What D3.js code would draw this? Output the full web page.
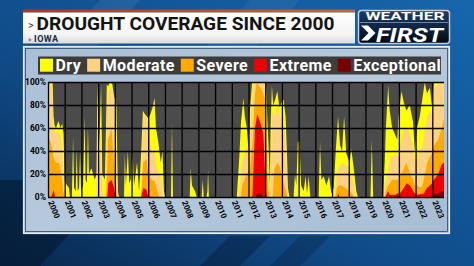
<!DOCTYPE html>
<html>
<head>
<meta charset="utf-8">
<script src="https://cdn.jsdelivr.net/npm/d3@7/dist/d3.min.js"></script>
<style>
  body { margin: 0; background: #0e4a86; overflow: hidden; }
  svg { display: block; }
  text { font-family: Roboto, 'Open Sans', sans-serif; }
</style>
</head>
<body>
<div id="chart"></div>
<script>
/* global d3 */

var categories = ['Dry', 'Moderate', 'Severe', 'Extreme', 'Exceptional']
var years = d3.range(2000, 2024)
var yTicks = [0, 20, 40, 60, 80, 100]

// Percent of Iowa in each category or worse, as [decimal year, percent].
var dry = [
  [2000.00, 100], [2000.28, 100], [2000.33, 70], [2000.40, 62], [2000.48, 60], [2000.62, 66],
  [2000.75, 60], [2000.85, 64], [2000.93, 55], [2001.00, 14], [2001.15, 10], [2001.25, 8],
  [2001.32, 0], [2001.43, 0], [2001.50, 52], [2001.56, 8], [2001.66, 5], [2001.72, 42],
  [2001.78, 5], [2001.86, 8], [2001.92, 40], [2001.98, 5], [2002.10, 10], [2002.19, 70],
  [2002.25, 15], [2002.33, 12], [2002.39, 62], [2002.45, 20], [2002.60, 25], [2002.80, 15],
  [2002.90, 20], [2002.96, 100], [2003.03, 40], [2003.10, 60], [2003.18, 98], [2003.25, 20],
  [2003.40, 15], [2003.47, 60], [2003.52, 98], [2003.60, 96], [2003.70, 100], [2003.85, 98],
  [2003.95, 88], [2004.10, 80], [2004.18, 5], [2004.25, 0], [2004.55, 0], [2004.60, 38],
  [2004.66, 10], [2004.78, 40], [2004.86, 12], [2004.95, 15], [2005.06, 38], [2005.15, 10],
  [2005.33, 30], [2005.45, 5], [2005.58, 40], [2005.68, 75], [2005.80, 72], [2005.92, 70],
  [2006.02, 68], [2006.15, 73], [2006.26, 78], [2006.38, 86], [2006.46, 60], [2006.60, 48],
  [2006.75, 30], [2006.85, 40], [2006.94, 5], [2007.02, 0], [2007.36, 0], [2007.42, 65],
  [2007.48, 0], [2008.48, 0], [2008.54, 25], [2008.62, 10], [2008.80, 5], [2008.90, 0],
  [2009.20, 0], [2009.26, 15], [2009.32, 0], [2009.48, 0], [2009.54, 5], [2009.58, 24],
  [2009.63, 0], [2011.30, 0], [2011.45, 35], [2011.55, 65], [2011.62, 75], [2011.69, 86],
  [2011.78, 70], [2011.90, 60], [2012.00, 40], [2012.08, 75], [2012.22, 100], [2012.95, 100],
  [2013.05, 98], [2013.12, 70], [2013.20, 45], [2013.28, 10], [2013.32, 60], [2013.40, 97],
  [2013.48, 80], [2013.60, 85], [2013.72, 92], [2013.85, 78], [2013.98, 82], [2014.10, 85],
  [2014.22, 70], [2014.30, 40], [2014.36, 8], [2014.45, 0], [2014.70, 0], [2014.78, 20],
  [2014.86, 10], [2014.95, 48], [2015.05, 48], [2015.15, 10], [2015.30, 5], [2015.42, 18],
  [2015.50, 3], [2015.60, 18], [2015.70, 0], [2016.20, 0], [2016.28, 48], [2016.36, 15],
  [2016.50, 18], [2016.66, 10], [2016.82, 18], [2016.96, 3], [2017.10, 8], [2017.22, 40],
  [2017.36, 70], [2017.48, 45], [2017.60, 40], [2017.72, 70], [2017.85, 38], [2018.05, 30],
  [2018.15, 42], [2018.30, 25], [2018.45, 5], [2018.55, 0], [2019.30, 0], [2019.38, 50],
  [2019.46, 0], [2020.05, 0], [2020.15, 30], [2020.22, 60], [2020.36, 97], [2020.45, 75],
  [2020.60, 60], [2020.75, 55], [2020.90, 50], [2020.98, 70], [2021.15, 92], [2021.30, 82],
  [2021.45, 75], [2021.65, 80], [2021.85, 65], [2021.95, 40], [2022.08, 60], [2022.25, 70],
  [2022.40, 85], [2022.55, 100], [2022.68, 90], [2022.85, 95], [2022.97, 80], [2023.08, 100],
  [2023.70, 100]
]

var moderate = [
  [2000.00, 100], [2000.25, 97], [2000.33, 60], [2000.45, 55], [2000.62, 58], [2000.80, 50],
  [2000.90, 30], [2001.00, 5], [2001.10, 0], [2002.92, 0], [2002.96, 90], [2003.03, 20],
  [2003.10, 30], [2003.18, 60], [2003.25, 5], [2003.30, 0], [2003.45, 0], [2003.52, 70],
  [2003.60, 92], [2003.80, 95], [2003.95, 85], [2004.10, 40], [2004.18, 0], [2005.55, 0],
  [2005.62, 20], [2005.70, 72], [2005.90, 70], [2006.00, 62], [2006.20, 40], [2006.40, 40],
  [2006.50, 25], [2006.70, 18], [2006.80, 15], [2006.92, 0], [2007.38, 0], [2007.42, 5],
  [2007.46, 0], [2011.40, 0], [2011.48, 10], [2011.60, 30], [2011.72, 35], [2011.90, 45],
  [2012.00, 40], [2012.08, 50], [2012.25, 95], [2012.35, 100], [2012.95, 100], [2013.05, 85],
  [2013.15, 40], [2013.25, 5], [2013.32, 20], [2013.42, 75], [2013.55, 70], [2013.75, 80],
  [2013.90, 70], [2014.05, 65], [2014.20, 55], [2014.30, 15], [2014.36, 0], [2017.15, 0],
  [2017.22, 15], [2017.36, 25], [2017.50, 28], [2017.75, 30], [2017.90, 25], [2018.05, 20],
  [2018.15, 18], [2018.30, 10], [2018.42, 0], [2020.10, 0], [2020.17, 10], [2020.36, 25],
  [2020.48, 35], [2020.62, 35], [2020.78, 38], [2020.92, 35], [2021.15, 50], [2021.30, 60],
  [2021.45, 60], [2021.65, 55], [2021.85, 45], [2021.95, 30], [2022.10, 35], [2022.25, 40],
  [2022.42, 45], [2022.56, 60], [2022.70, 70], [2022.86, 75], [2022.98, 70], [2023.10, 95],
  [2023.35, 98], [2023.50, 100], [2023.70, 100]
]

var severe = [
  [2000.00, 55], [2000.20, 45], [2000.33, 35], [2000.48, 30], [2000.65, 30], [2000.80, 20],
  [2000.92, 5], [2001.00, 0], [2003.48, 0], [2003.53, 20], [2003.60, 50], [2003.80, 60],
  [2003.95, 30], [2004.10, 5], [2004.15, 0], [2005.56, 0], [2005.62, 10], [2005.70, 30],
  [2005.90, 33], [2006.00, 20], [2006.20, 15], [2006.38, 14], [2006.50, 8], [2006.65, 0],
  [2011.55, 0], [2011.62, 10], [2011.90, 20], [2012.08, 25], [2012.25, 50], [2012.39, 90],
  [2012.50, 100], [2012.70, 95], [2012.90, 90], [2013.00, 85], [2013.06, 50], [2013.15, 15],
  [2013.25, 0], [2013.45, 0], [2013.55, 25], [2013.75, 30], [2013.90, 25], [2014.05, 15],
  [2014.25, 5], [2014.32, 0], [2017.20, 0], [2017.30, 8], [2017.40, 10], [2017.60, 10],
  [2017.80, 8], [2018.05, 5], [2018.20, 3], [2018.30, 0], [2020.15, 0], [2020.22, 5],
  [2020.36, 10], [2020.60, 15], [2020.90, 15], [2021.15, 20], [2021.30, 25], [2021.46, 30],
  [2021.66, 20], [2021.86, 15], [2021.96, 10], [2022.10, 10], [2022.30, 8], [2022.42, 10],
  [2022.56, 20], [2022.70, 30], [2022.86, 35], [2023.00, 38], [2023.10, 45], [2023.36, 50],
  [2023.56, 60], [2023.70, 68]
]

var extreme = [
  [2000.20, 0], [2000.28, 3], [2000.35, 6], [2000.42, 0], [2003.55, 0], [2003.60, 12],
  [2003.80, 15], [2003.95, 8], [2004.05, 0], [2005.58, 0], [2005.65, 5], [2005.72, 8],
  [2005.90, 6], [2006.00, 0], [2012.22, 0], [2012.25, 5], [2012.39, 60], [2012.53, 72],
  [2012.69, 65], [2012.89, 55], [2012.99, 20], [2013.05, 5], [2013.10, 0], [2017.32, 0],
  [2017.37, 3], [2017.45, 0], [2020.20, 0], [2020.25, 2], [2020.37, 5], [2020.45, 2],
  [2020.80, 2], [2020.92, 3], [2021.05, 3], [2021.16, 5], [2021.30, 8], [2021.46, 12],
  [2021.66, 10], [2021.86, 5], [2021.96, 3], [2022.10, 2], [2022.50, 3], [2022.56, 5],
  [2022.70, 8], [2022.86, 10], [2023.00, 12], [2023.10, 15], [2023.36, 20], [2023.56, 28],
  [2023.70, 30]
]

var exceptional = [
  [2012.45, 0], [2012.50, 3], [2012.80, 3], [2012.85, 0], [2023.00, 0], [2023.10, 2],
  [2023.36, 3], [2023.56, 5], [2023.70, 5]
]

var series = [dry, moderate, severe, extreme, exceptional]
var COLORS = ['#ffff00', '#fdd382', '#ffaa00', '#f00000', '#780000']

var W = 474
var H = 266
var PLOT = { left: 48, right: 444, top: 82, bottom: 197 }

var svg = d3.select('#chart').append('svg')
  .attr('width', W)
  .attr('height', H)
var defs = svg.append('defs')

function gradient (id, x1, y1, x2, y2, stops) {
  var g = defs.append('linearGradient').attr('id', id)
    .attr('x1', x1).attr('y1', y1).attr('x2', x2).attr('y2', y2)
  stops.forEach(function (s) {
    g.append('stop').attr('offset', s[0]).attr('stop-color', s[1])
  })
}

gradient('bg', 0, 1, 1, 0, [[0, '#08274c'], [0.4, '#104b88'], [1, '#1766ad']])
gradient('redline', 0, 0, 1, 0, [[0, '#c42c1c'], [1, '#d4602e']])
gradient('whitebar', 0, 0, 0, 1, [[0, '#ffffff'], [0.7, '#f4f4f4'], [1, '#dcdcdc']])
gradient('logo', 0, 0, 0, 1, [[0, '#1d3c68'], [0.5, '#0f2544'], [1, '#03070e']])
gradient('panel', 0, 0, 1, 1, [[0, '#a9bfd6'], [0.5, '#b6c9dc'], [1, '#a7bdd4']])

//
// Background with diagonal stripes
//
svg.append('rect').attr('width', W).attr('height', H).attr('fill', 'url(#bg)')

var stripes = [
  { pts: [[100, 0], [140, 0], [95, 48], [55, 48]], fill: '#ffffff', op: 0.07 },
  { pts: [[250, 0], [300, 0], [255, 48], [205, 48]], fill: '#ffffff', op: 0.05 },
  { pts: [[0, 180], [0, 266], [40, 266], [120, 180]], fill: '#04152b', op: 0.55 },
  { pts: [[230, 236], [270, 236], [240, 266], [200, 266]], fill: '#04152b', op: 0.35 },
  { pts: [[300, 236], [330, 236], [300, 266], [270, 266]], fill: '#04152b', op: 0.25 }
]
svg.selectAll('polygon.stripe').data(stripes).join('polygon')
  .attr('class', 'stripe')
  .attr('points', function (d) { return d.pts.join(' ') })
  .attr('fill', function (d) { return d.fill })
  .attr('opacity', function (d) { return d.op })

//
// Header: title bar and logo
//
svg.append('rect').attr('x', 23).attr('y', 9.5).attr('width', 332).attr('height', 3)
  .attr('fill', 'url(#redline)')
svg.append('rect').attr('x', 23).attr('y', 12.5).attr('width', 332).attr('height', 31)
  .attr('fill', 'url(#whitebar)')
svg.append('text').attr('x', 28).attr('y', 28.5)
  .attr('font-size', 11).attr('fill', '#333').text('>')
svg.append('text').attr('x', 36.5).attr('y', 30.2)
  .attr('font-size', 17.8).attr('font-weight', 'bold').attr('fill', '#141414')
  .attr('textLength', 298).attr('lengthAdjust', 'spacingAndGlyphs')
  .text('DROUGHT COVERAGE SINCE 2000')
svg.append('text').attr('x', 28).attr('y', 41.5)
  .attr('font-size', 7).attr('fill', '#445').text('»')
svg.append('text').attr('x', 34).attr('y', 41.7)
  .attr('font-size', 9).attr('font-weight', 'bold').attr('fill', '#1b2b44')
  .attr('letter-spacing', 0.5).text('IOWA')

var logo = svg.append('g')
logo.append('rect').attr('x', 358.5).attr('y', 10.5).attr('width', 91).attr('height', 33)
  .attr('rx', 3).attr('fill', 'url(#logo)').attr('stroke', '#c5ced8').attr('stroke-width', 1.5)
logo.append('line').attr('x1', 360).attr('x2', 448).attr('y1', 22.5).attr('y2', 22.5)
  .attr('stroke', '#8e9cae').attr('stroke-width', 0.8)
logo.append('text').attr('x', 405).attr('y', 20.3).attr('text-anchor', 'middle')
  .attr('font-size', 10.5).attr('font-weight', 'bold').attr('fill', '#fff')
  .attr('textLength', 79).attr('lengthAdjust', 'spacingAndGlyphs').text('WEATHER')
logo.append('polygon')
  .attr('points', '361,25.5 368,25.5 375.5,33 368,40.5 361,40.5 368.5,33')
  .attr('fill', '#fff')
logo.append('text').attr('x', 376).attr('y', 41.5)
  .attr('font-size', 20).attr('font-weight', 'bold').attr('font-style', 'italic').attr('fill', '#fff')
  .attr('textLength', 67).attr('lengthAdjust', 'spacingAndGlyphs').text('FIRST')

//
// Panel and legend
//
svg.append('rect').attr('x', 23.5).attr('y', 46.5).attr('width', 426).attr('height', 187)
  .attr('fill', 'url(#panel)').attr('stroke', '#e6eef6').attr('stroke-width', 1.2)
svg.append('rect').attr('x', 25.5).attr('y', 48.5).attr('width', 422).attr('height', 183)
  .attr('fill', 'none').attr('stroke', '#27486e').attr('stroke-width', 0.8)

var legend = svg.append('g')
legend.append('rect').attr('x', 38).attr('y', 56.5).attr('width', 403).attr('height', 18)
  .attr('fill', '#3c3c3c')

var cursor = 40
categories.forEach(function (name, i) {
  legend.append('rect').attr('x', cursor).attr('y', 58.7).attr('width', 13).attr('height', 13)
    .attr('fill', COLORS[i])
  var t = legend.append('text').attr('x', cursor + 15.5).attr('y', 70.8)
    .attr('font-size', 16).attr('font-weight', 'bold').attr('fill', '#fff')
    .attr('letter-spacing', 0.4)
    .text(name)
  cursor += 15.5 + t.node().getComputedTextLength() + 6
})

//
// Plot
//
var x = d3.scaleLinear().domain([2000, 2023.7]).range([PLOT.left, PLOT.right])
var y = d3.scaleLinear().domain([0, 100]).range([PLOT.bottom, PLOT.top])

defs.append('clipPath').attr('id', 'clip').append('rect')
  .attr('x', PLOT.left).attr('y', PLOT.top)
  .attr('width', PLOT.right - PLOT.left).attr('height', PLOT.bottom - PLOT.top)

svg.append('rect')
  .attr('x', PLOT.left).attr('y', PLOT.top)
  .attr('width', PLOT.right - PLOT.left).attr('height', PLOT.bottom - PLOT.top)
  .attr('fill', '#4b4b4b')

var area = d3.area()
  .x(function (d) { return x(d[0]) })
  .y0(y(0))
  .y1(function (d) { return y(d[1]) })

svg.append('g').attr('clip-path', 'url(#clip)')
  .selectAll('path').data(series).join('path')
  .attr('d', area)
  .attr('fill', function (d, i) { return COLORS[i] })

var gridY = svg.append('g')
  .attr('transform', 'translate(' + PLOT.left + ',0)')
  .call(d3.axisLeft(y)
    .tickValues(yTicks)
    .tickSize(-(PLOT.right - PLOT.left))
    .tickPadding(2)
    .tickFormat(function (d) { return d + '%' }))
gridY.attr('font-family', null).attr('font-size', 8.5).attr('font-weight', 'bold')
gridY.select('.domain').remove()
gridY.selectAll('line').attr('stroke', '#000').attr('stroke-width', 1.3)
gridY.selectAll('text').attr('fill', '#000')

var gridX = svg.append('g')
  .attr('transform', 'translate(0,' + PLOT.bottom + ')')
  .call(d3.axisBottom(x)
    .tickValues(years)
    .tickSize(-(PLOT.bottom - PLOT.top))
    .tickFormat(d3.format('d')))
gridX.attr('font-family', null).attr('font-size', 8).attr('font-weight', 'bold')
gridX.select('.domain').remove()
gridX.selectAll('line').attr('stroke', '#000').attr('stroke-width', 1.3)
gridX.selectAll('text')
  .attr('fill', '#000')
  .attr('y', 0)
  .attr('dy', 0)
  .attr('text-anchor', 'start')
  .attr('transform', 'translate(-0.5,5) rotate(68)')
</script>
</body>
</html>
